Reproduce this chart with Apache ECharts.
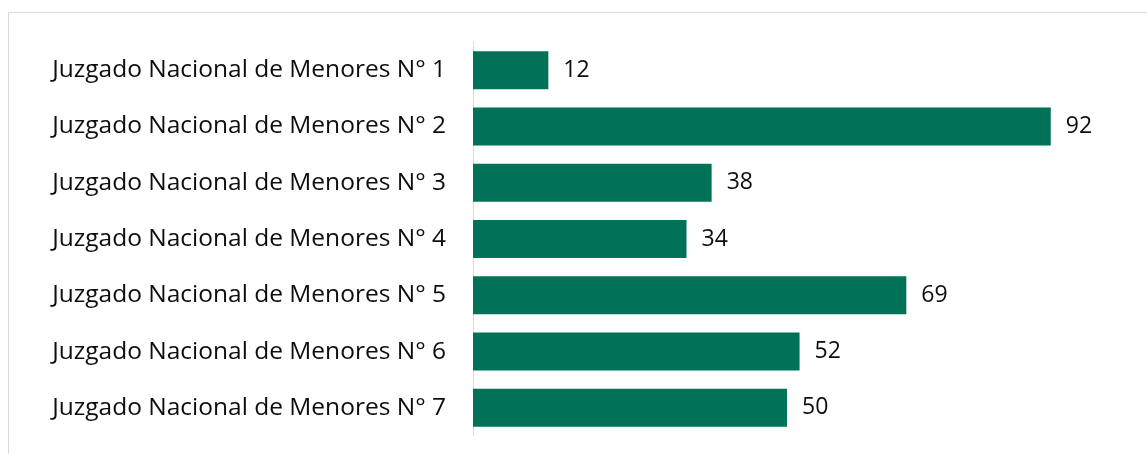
<!DOCTYPE html>
<html>
<head>
<meta charset="utf-8">
<script src="https://cdn.jsdelivr.net/npm/echarts@6/dist/echarts.min.js"></script>
<style>
    html, body { margin: 0; padding: 0; background: #fff; overflow: hidden; }
    #frame {
        position: absolute; left: 8px; top: 12px;
        width: 1300px; height: 600px;
        border: 1px solid #d9d9d9;
    }
    #chart { position: absolute; left: 0; top: 0; width: 1147px; height: 454px; }
</style>
</head>
<body>
<div id="frame"></div>
<div id="chart"></div>
<script>
    // data
    const categories = [
        'Juzgado Nacional de Menores N° 1',
        'Juzgado Nacional de Menores N° 2',
        'Juzgado Nacional de Menores N° 3',
        'Juzgado Nacional de Menores N° 4',
        'Juzgado Nacional de Menores N° 5',
        'Juzgado Nacional de Menores N° 6',
        'Juzgado Nacional de Menores N° 7'
    ];
    const values = [12, 92, 38, 34, 69, 52, 50];

    const chart = echarts.init(document.getElementById('chart'));
    let option = {
        animation: false,
        grid: {
            left: 473,
            right: 46,
            top: 42,
            bottom: 18,
            containLabel: false
        },
        xAxis: {
            type: 'value',
            min: 0,
            max: 100,
            show: false
        },
        yAxis: {
            type: 'category',
            data: categories,
            inverse: true,
            axisLine: {
                show: true,
                lineStyle: { color: '#d9d9d9', width: 1 }
            },
            axisTick: { show: false },
            axisLabel: {
                margin: 27,
                color: '#0d0d0d',
                fontFamily: 'Open Sans',
                fontSize: 24.5
            }
        },
        series: [
            {
                name: 'Causas',
                type: 'bar',
                data: values,
                barWidth: '67.5%',
                itemStyle: { color: '#017257' },
                label: {
                    show: true,
                    position: 'right',
                    distance: 15,
                    color: '#0d0d0d',
                    fontFamily: 'Open Sans',
                    fontSize: 23
                }
            }
        ]
    };
    chart.setOption(option);
</script>
</body>
</html>
